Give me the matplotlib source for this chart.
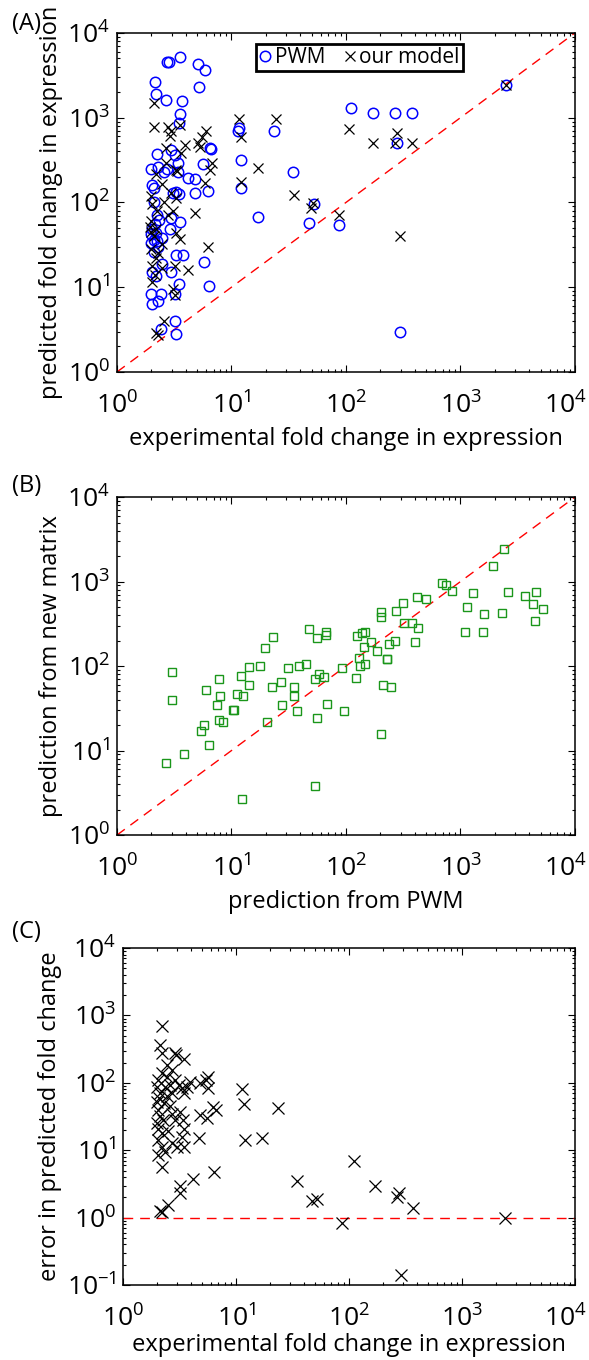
import matplotlib
matplotlib.use("Agg")
import matplotlib.pyplot as plt
from matplotlib.ticker import LogLocator, NullFormatter
from matplotlib.transforms import ScaledTranslation

plt.rcParams["font.family"] = ["Open Sans", "DejaVu Sans"]
plt.rcParams["mathtext.fontset"] = "custom"
plt.rcParams["mathtext.rm"] = "Open Sans"
plt.rcParams["mathtext.it"] = "Open Sans"

# (A) experimental fold change vs PWM prediction
pwm_exp = [3.55, 2.75, 2.85, 2.15, 2.2, 2.7, 3.7, 3.55, 3.5, 5.1, 5.9, 5.2,
           6.5, 6.6, 5.6, 6.2, 4.8, 4.8, 5.75, 6.35, 11.4, 11.6, 12.1, 12.1,
           17, 23.5, 34.5, 47.5, 52.6, 87, 110, 173, 270, 380, 280, 297, 2500,
           1.97, 2.04, 2.1, 2.25, 2.3, 2.56, 2.76, 2.97, 3.2, 3.4, 3.4, 4.15,
           3.1, 3.3, 3.45, 2.1, 2.25, 2.04, 2.1, 2.25, 1.97, 2.45, 2.9, 2.97,
           3.55, 3.3, 3.75, 2.45, 2.04, 2.2, 2.97, 3.45, 1.97, 2.4, 3.2, 2.04,
           2.3, 3.2, 2.4, 3.25, 2.0, 2.15, 2.3, 2.1, 2.2, 2.35]
pwm_pred = [5200, 4500, 4550, 2650, 1900, 1620, 1580, 1100, 870, 4300, 3650,
            2300, 440, 430, 285, 137, 190, 130, 20, 10.4, 700, 760, 320, 148,
            68, 700, 230, 57, 96, 54, 1300, 1140, 1140, 1140, 500, 3.0, 2400,
            250, 160, 150, 375, 260, 230, 245, 415, 365, 295, 230, 195,
            128, 133, 125, 100, 71, 48, 36, 35, 33, 38, 48, 66,
            59, 24, 24, 19, 15, 13.5, 15, 11, 8.3, 8.3, 8.3, 6.3,
            6.8, 4.0, 3.2, 2.8, 42, 55, 30, 26, 44, 62]

# (A) experimental fold change vs our model
mod_exp = [107, 173, 270, 280, 380, 297, 87, 49.5, 52, 35.5, 17, 24.5, 11.6,
           12.1, 12.1, 2500, 6.75, 6.5, 5.9, 4.8, 6.2, 4.2, 5.5, 6.0, 5.1, 5.3,
           2.12, 2.12, 2.77, 2.97, 3.55, 3.9, 3.6, 3.3, 2.7, 2.7, 3.3, 2.97,
           2.45, 2.2, 1.97, 2.04, 2.56, 2.25, 2.77, 1.95, 2.2, 3.1, 3.3, 3.55,
           2.45, 1.97, 2.2, 2.04, 2.45, 3.2, 2.04, 3.1, 3.2, 2.6, 2.2, 2.3,
           3.35, 2.9, 2.0, 2.1, 2.3, 2.0, 2.15]
mod_pred = [740, 500, 500, 660, 500, 40, 71, 86, 98, 122, 255, 960, 960,
            590, 175, 2400, 295, 240, 170, 75, 30, 16, 590, 690, 500, 450,
            1500, 780, 780, 700, 830, 480, 380, 240, 440, 295, 112, 130,
            165, 215, 118, 96, 100, 79, 72, 52, 48, 80, 44, 37,
            32, 28, 22, 18, 17, 18, 11.5, 9.6, 8.0, 4.0, 2.9, 2.7,
            235, 600, 60, 40, 25, 45, 14]

# (B) PWM prediction vs new matrix prediction
b_pwm = [2.66, 3.87, 3.0, 3.0, 5.4, 5.8, 6.4, 6.0, 7.8, 7.9, 7.4, 7.8, 8.5,
         10.4, 10.5, 11.1, 12.0, 12.7, 12.4, 14.2, 14.1, 17.7, 19.6, 23.2,
         20.5, 22.5, 26.9, 27.4, 31.4, 35.5, 35.5, 37, 39, 44.7, 47.9, 55.4,
         55.4, 53.7, 54, 57.6, 64.6, 66.8, 66.8, 67.6, 93, 96.6, 123, 124,
         131, 133, 137, 146, 146, 144, 164, 186, 202, 202, 204, 212, 226,
         229, 237, 245, 269, 274, 313, 324, 376, 400, 428, 413, 496, 694,
         742, 851, 1096, 1130, 1290, 1590, 1570, 1910, 2320, 2400, 2620,
         3650, 4270, 4470, 4560, 5250]
b_new = [7.2, 9.1, 86, 40, 17, 20, 11.7, 52, 71, 44, 35, 23, 21.6,
         30, 30, 47, 76, 44, 2.67, 98, 60, 100, 165, 218,
         22, 57, 65, 35, 96, 57, 44, 29.6, 100, 105, 275, 213,
         24.6, 3.84, 71, 80, 74, 252, 233, 36, 94, 29.6, 73, 229,
         126, 100, 244, 256, 105, 166, 191, 152, 431, 376, 15.5, 60, 121,
         122, 182, 57, 199, 452, 565, 320, 320, 191, 279, 661, 620, 955,
         910, 775, 251, 503, 740, 417, 251, 1540, 427, 2400, 745,
         680, 550, 340, 750, 480]

# (C) experimental fold change vs error of our model
c_exp = [2.23, 2.12, 2.9, 2.95, 3.5, 11.4, 11.8, 23.7, 11.9, 16.9, 4.7, 6.4,
         4.2, 3.2, 3.2, 2.5, 2.13, 2.2, 34.5, 47, 52, 87, 110, 170, 265, 279,
         370, 2400, 290,
         2.06, 1.98, 2.2, 2.43, 2.35, 2.7, 2.9, 3.1, 3.3, 3.5, 3.7, 3.9, 4.8,
         5.4, 5.7, 5.7, 1.98, 2.06, 2.13, 2.27, 2.06, 2.2, 2.06, 2.2, 2.06,
         2.35, 2.2, 2.6, 2.7, 2.9, 3.2, 3.4, 3.5, 3.3, 3.5, 3.0, 2.7, 4.8, 5.5,
         6.3, 6.7, 2.2, 2.43, 2.7, 2.13, 2.43, 2.6, 2.0, 2.1, 2.3, 2.5]
c_err = [695, 364, 275, 260, 225, 80, 48, 42, 14.2, 15.4, 15.4, 4.7,
         3.8, 2.9, 2.3, 1.55, 1.25, 1.2, 3.5, 1.78, 1.87, 0.82, 6.9, 3.0, 2.0,
         2.3, 1.38, 1.0, 0.14,
         110, 87, 138, 123, 87, 155, 110, 93, 83, 70, 87, 104, 98,
         110, 123, 83, 52, 40, 32, 28, 21, 18, 14, 11, 8.5,
         9.5, 5.6, 45, 35, 28, 37, 28, 21, 16, 11, 11, 12.6, 33, 30,
         44, 40, 275, 182, 70, 70, 63, 93, 25, 60, 50, 19]

X_TICKS = [1, 10, 100, 1000, 10000]
LABEL_FS = 17
TICK_FS = 19
DASH = (0, (7, 5))


def style_log_axes(ax, ymin, ymax):
    ax.set_xscale("log")
    ax.set_yscale("log")
    ax.set_xlim(1, 1e4)
    ax.set_ylim(ymin, ymax)
    ax.set_xticks(X_TICKS)
    ax.yaxis.set_major_locator(LogLocator(base=10, numticks=10))
    for axis in (ax.xaxis, ax.yaxis):
        axis.set_minor_locator(LogLocator(base=10, subs=range(2, 10), numticks=20))
        axis.set_minor_formatter(NullFormatter())
    ax.tick_params(which="both", direction="in", top=True, right=True,
                   width=0.8, labelsize=TICK_FS)
    ax.tick_params(axis="x", pad=15)
    ax.tick_params(axis="y", pad=5)
    ax.tick_params(which="major", length=5)
    ax.tick_params(which="minor", length=2.5)
    for s in ax.spines.values():
        s.set_linewidth(1.1)


fig = plt.figure(figsize=(5.89, 13.60), dpi=100)

# panel A
axA = fig.add_axes([0.1986, 0.7265, 0.7776, 0.2493])
style_log_axes(axA, 1, 1e4)
axA.plot([1, 1e4], [1, 1e4], ls=DASH, color="red", lw=1)
axA.plot(pwm_exp, pwm_pred, "o", mfc="none", mec="#0000ff", ms=7.5, mew=1.1,
         ls="none", label="PWM")
axA.plot(mod_exp, mod_pred, "x", color="black", ms=7.5, mew=0.9,
         ls="none", label="our model")
axA.set_xlabel("experimental fold change in expression", fontsize=LABEL_FS,
               labelpad=5)
axA.set_ylabel("predicted fold change in expression", fontsize=LABEL_FS,
               labelpad=3)
leg = axA.legend(loc="upper left", bbox_to_anchor=(0.303, 0.967),
                 borderaxespad=0, ncol=2, fontsize=15, frameon=True,
                 fancybox=False, framealpha=1, handlelength=0.6,
                 handletextpad=0.15, columnspacing=0.9, borderpad=0.15)
leg.get_frame().set_edgecolor("black")
leg.get_frame().set_linewidth(2)

# panel B
axB = fig.add_axes([0.1986, 0.386, 0.7776, 0.2485])
style_log_axes(axB, 1, 1e4)
axB.plot([1, 1e4], [1, 1e4], ls=DASH, color="red", lw=1)
axB.plot(b_pwm, b_new, "s", mfc="none", mec="#1a961a", ms=6.2, mew=1,
         ls="none")
axB.set_xlabel("prediction from PWM", fontsize=LABEL_FS, labelpad=5)
axB.set_ylabel("prediction from new matrix", fontsize=LABEL_FS, labelpad=3)

# panel C
axC = fig.add_axes([0.2088, 0.0551, 0.7674, 0.2478])
style_log_axes(axC, 0.1, 1e4)
axC.axhline(1, ls=DASH, color="red", lw=1)
axC.plot(c_exp, c_err, "x", color="black", ms=8.5, mew=0.9, ls="none")
axC.set_xlabel("experimental fold change in expression", fontsize=LABEL_FS,
               labelpad=0)
axC.set_ylabel("error in predicted fold change", fontsize=LABEL_FS,
               labelpad=3)

for letter, ypix in zip(("(A)", "(B)", "(C)"), (24, 486, 932)):
    fig.text(12 / 589, 1 - ypix / 1360, letter, fontsize=LABEL_FS,
             ha="left", va="center")

# pull the 10^4 label in from the right edge of the figure
fig.canvas.draw()
for ax in (axA, axB, axC):
    last = ax.xaxis.get_major_ticks()[len(X_TICKS) - 1].label1
    last.set_transform(last.get_transform()
                       + ScaledTranslation(-7 / 72, 0, fig.dpi_scale_trans))

fig.savefig("out.png", dpi=100)
